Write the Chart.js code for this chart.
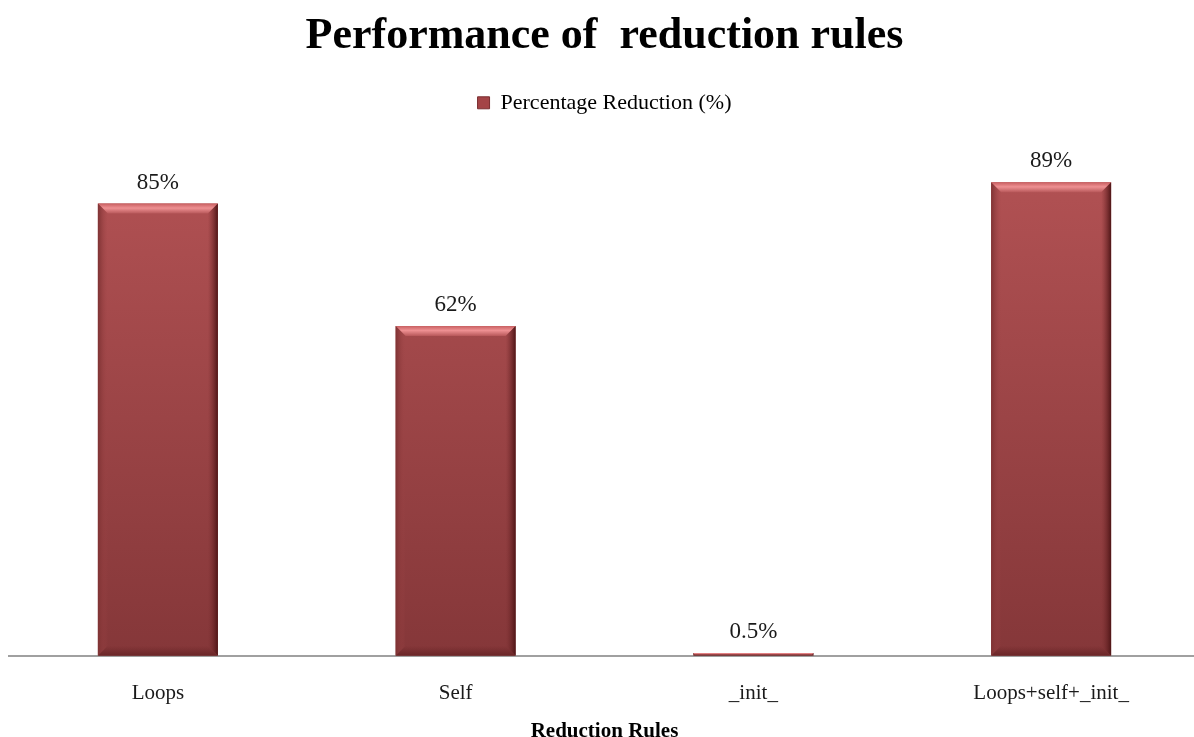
<!DOCTYPE html>
<html>
<head>
<meta charset="utf-8">
<script src="https://cdn.jsdelivr.net/npm/chart.js"></script>
<style>
  html, body { margin: 0; padding: 0; background: #fff; overflow: hidden; }
  #wrap { width: 1200px; height: 737px; }
</style>
</head>
<body>
<div id="wrap"><canvas id="chart"></canvas></div>
<script>
const categories = ['Loops', 'Self', '_init_', 'Loops+self+_init_'];
const reduction = [85, 62, 0.5, 89];
const seriesName = 'Percentage Reduction (%)';

const serif = "'Liberation Serif', 'DejaVu Serif', serif";

// bevel look like the office chart style
const bevelPlugin = {
	id: 'bevel',
	afterDatasetsDraw(chart) {
		const ctx = chart.ctx;
		const meta = chart.getDatasetMeta(0);
		meta.data.forEach((bar, i) => {
			const left = bar.x - bar.width / 2;
			const right = bar.x + bar.width / 2;
			const top = bar.y;
			const bottom = bar.base;
			const h = bottom - top;
			const b = Math.min(10, h / 2);
			ctx.save();
			if (h > 2) {
				// top bevel
				let g = ctx.createLinearGradient(0, top, 0, top + b);
				g.addColorStop(0, '#c85f61');
				g.addColorStop(0.45, '#ee9092');
				g.addColorStop(1, '#b8585a');
				ctx.fillStyle = g;
				ctx.beginPath();
				ctx.moveTo(left, top);
				ctx.lineTo(right, top);
				ctx.lineTo(right - b, top + b);
				ctx.lineTo(left + b, top + b);
				ctx.closePath();
				ctx.fill();
				// left bevel
				g = ctx.createLinearGradient(left, 0, left + b, 0);
				g.addColorStop(0, '#7e3233');
				g.addColorStop(1, 'rgba(160,70,72,0)');
				ctx.fillStyle = g;
				ctx.beginPath();
				ctx.moveTo(left, top);
				ctx.lineTo(left + b, top + b);
				ctx.lineTo(left + b, bottom - b);
				ctx.lineTo(left, bottom);
				ctx.closePath();
				ctx.fill();
				// right bevel
				g = ctx.createLinearGradient(right - b, 0, right, 0);
				g.addColorStop(0, 'rgba(120,45,47,0)');
				g.addColorStop(1, '#4e1516');
				ctx.fillStyle = g;
				ctx.beginPath();
				ctx.moveTo(right, top);
				ctx.lineTo(right - b, top + b);
				ctx.lineTo(right - b, bottom - b);
				ctx.lineTo(right, bottom);
				ctx.closePath();
				ctx.fill();
				// bottom bevel
				g = ctx.createLinearGradient(0, bottom - b, 0, bottom);
				g.addColorStop(0, 'rgba(110,40,42,0)');
				g.addColorStop(1, '#6a2627');
				ctx.fillStyle = g;
				ctx.beginPath();
				ctx.moveTo(left, bottom);
				ctx.lineTo(left + b, bottom - b);
				ctx.lineTo(right - b, bottom - b);
				ctx.lineTo(right, bottom);
				ctx.closePath();
				ctx.fill();
			}
			// value label
			ctx.fillStyle = '#1a1a1a';
			ctx.font = '23px ' + serif;
			ctx.textAlign = 'center';
			ctx.textBaseline = 'middle';
			ctx.fillText(reduction[i] + '%', bar.x, top - 21);
			ctx.restore();
		});
	}
};

const ctx = document.getElementById('chart');

new Chart(ctx, {
	type: 'bar',
	data: {
		labels: categories,
		datasets: [
			{
				label: seriesName,
				data: reduction,
				backgroundColor: c => {
					const area = c.chart.chartArea;
					if (!area) return '#a44446';
					const g = c.chart.ctx.createLinearGradient(0, area.top, 0, area.bottom);
					g.addColorStop(0, '#b65456');
					g.addColorStop(1, '#853739');
					return g;
				},
				borderWidth: 0,
				categoryPercentage: 1,
				barPercentage: 0.403
			}
		]
	},
	plugins: [bevelPlugin],
	options: {
		responsive: true,
		maintainAspectRatio: false,
		animation: false,
		layout: { padding: { left: 9, right: 0, top: 0, bottom: 0 } },
		plugins: {
			title: {
				display: true,
				text: 'Performance of  reduction rules',
				color: '#000',
				font: { family: serif, size: 44, weight: 'bold', lineHeight: 1.2 },
				padding: { top: 10, bottom: 15 }
			},
			legend: {
				display: true,
				position: 'top',
				labels: {
					color: '#1a1a1a',
					font: { family: serif, size: 22 },
					boxWidth: 12,
					boxHeight: 12,
					padding: 14,
					generateLabels: chart => [{
						text: seriesName,
						fillStyle: '#a44446',
						strokeStyle: '#7a2e30',
						lineWidth: 1,
						datasetIndex: 0
					}]
				}
			},
			tooltip: { enabled: false }
		},
		scales: {
			x: {
				grid: {
					display: true,
					drawOnChartArea: false,
					drawTicks: true,
					tickLength: 12.5,
					color: 'rgba(0,0,0,0)'
				},
				border: { display: true, color: '#a0a0a0', width: 2 },
				ticks: {
					color: '#1a1a1a',
					font: { family: serif, size: 21, lineHeight: 1 },
					padding: 15
				},
				title: {
					display: true,
					text: 'Reduction Rules',
					color: '#000',
					font: { family: serif, size: 21, weight: 'bold', lineHeight: 0.5 },
					padding: { top: 7.25, bottom: 0 }
				}
			},
			y: {
				display: false,
				min: 0,
				max: 100
			}
		}
	}
});
</script>
</body>
</html>
